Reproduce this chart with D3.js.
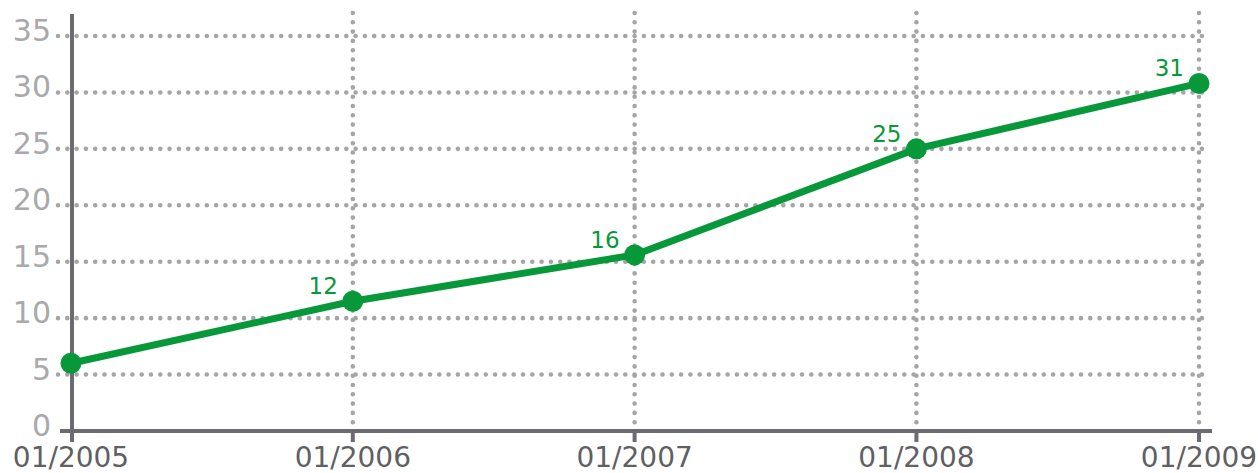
<!DOCTYPE html>
<html lang="en">
<head>
<meta charset="utf-8">
<script src="https://cdn.jsdelivr.net/npm/d3@7"></script>
<style>
  body { margin: 0; background: #fff; }
  text { font-family: "DejaVu Sans", sans-serif; }
  .grid line { stroke: #a5a5a8; stroke-width: 4.6; stroke-linecap: round; stroke-dasharray: 0 9.3; }
</style>
</head>
<body>
<script>
// chart data
var dates = ["01/2005", "01/2006", "01/2007", "01/2008", "01/2009"];
var values = [6, 11.5, 15.6, 25, 30.8];
var labels = ["", "12", "16", "25", "31"];
var yTicks = [0, 5, 10, 15, 20, 25, 30, 35];

var width = 1258, height = 473;
var green = "#07983a";

var svg = d3.select("body").append("svg")
  .attr("width", width)
  .attr("height", height);

var parse = d3.timeParse("%m/%Y");
var x = d3.scaleTime()
  .domain([parse(dates[0]), parse(dates[dates.length - 1])])
  .range([71, 1199]);
var y = d3.scaleLinear().domain([0, 35]).range([431, 36]);

// dotted grid
var grid = svg.append("g").attr("class", "grid");
grid.selectAll(".h").data(yTicks.slice(1)).enter().append("line")
  .attr("x1", 58).attr("x2", 1209)
  .attr("y1", function(d) { return y(d); })
  .attr("y2", function(d) { return y(d); });
grid.selectAll(".v").data(dates.slice(1)).enter().append("line")
  .attr("x1", function(d) { return x(parse(d)); })
  .attr("x2", function(d) { return x(parse(d)); })
  .attr("y1", 13).attr("y2", 428);

// y tick labels
svg.selectAll(".ylab").data(yTicks).enter().append("text")
  .attr("x", 51)
  .attr("y", function(d) { return y(d) + 5; })
  .attr("text-anchor", "end")
  .attr("font-size", 30)
  .attr("fill", "#a9a9ac")
  .text(function(d) { return d; });

// x tick labels
svg.selectAll(".xlab").data(dates).enter().append("text")
  .attr("x", function(d) { return x(parse(d)); })
  .attr("y", 467)
  .attr("text-anchor", "middle")
  .attr("font-size", 28)
  .attr("fill", "#5f5f64")
  .text(function(d) { return d; });

// axes
svg.append("line")
  .attr("x1", 60).attr("x2", 1212)
  .attr("y1", 431).attr("y2", 431)
  .attr("stroke", "#6b6b70").attr("stroke-width", 4);
svg.append("line")
  .attr("x1", 72).attr("x2", 72)
  .attr("y1", 14).attr("y2", 442)
  .attr("stroke", "#6b6b70").attr("stroke-width", 4);
svg.selectAll(".tick").data(dates.slice(1)).enter().append("line")
  .attr("x1", function(d) { return x(parse(d)); })
  .attr("x2", function(d) { return x(parse(d)); })
  .attr("y1", 431).attr("y2", 442)
  .attr("stroke", "#6b6b70").attr("stroke-width", 4);

// line + points
var line = d3.line()
  .x(function(d, i) { return x(parse(dates[i])); })
  .y(function(d) { return y(d); });

svg.append("path")
  .datum(values)
  .attr("d", line)
  .attr("fill", "none")
  .attr("stroke", green)
  .attr("stroke-width", 7);

svg.selectAll(".dot").data(values).enter().append("circle")
  .attr("cx", function(d, i) { return x(parse(dates[i])); })
  .attr("cy", function(d) { return y(d); })
  .attr("r", 10.5)
  .attr("fill", green);

svg.selectAll(".vlab").data(values).enter().append("text")
  .attr("x", function(d, i) { return x(parse(dates[i])) - 15; })
  .attr("y", function(d) { return y(d) - 7; })
  .attr("text-anchor", "end")
  .attr("font-size", 23)
  .attr("fill", green)
  .text(function(d, i) { return labels[i]; });
</script>
</body>
</html>
